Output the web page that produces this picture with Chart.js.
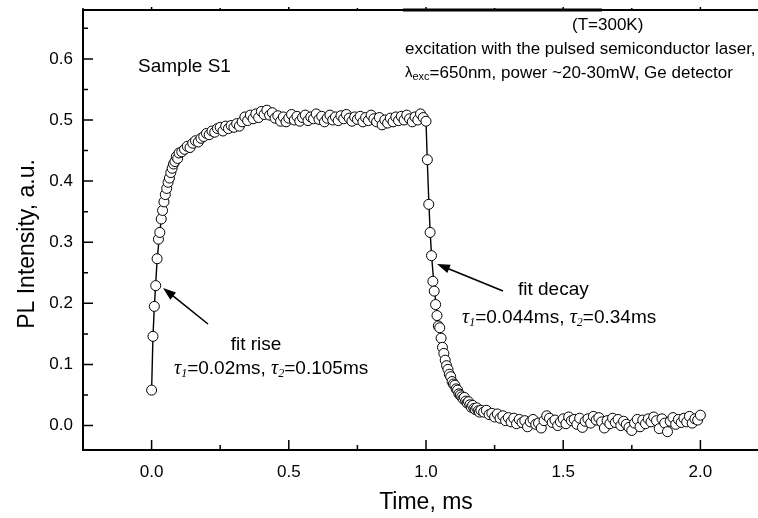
<!DOCTYPE html>
<html>
<head>
<meta charset="utf-8">
<script src="https://cdn.jsdelivr.net/npm/chart.js@4/dist/chart.umd.min.js"></script>
<style>
  html, body { margin: 0; padding: 0; background: #fff; overflow: hidden; width: 758px; height: 518px; }
  canvas { display: block; }
</style>
</head>
<body>
<canvas id="plChart" width="780" height="518"></canvas>
<script>
const riseStart = 0.0, riseStep = 0.005;
const riseValues = [0.058, 0.146, 0.195, 0.229, 0.273, 0.305, 0.316, 0.338, 0.352, 0.366,
  0.378, 0.388, 0.398, 0.405, 0.414, 0.421, 0.428, 0.432, 0.440, 0.437, 0.446];

const plateauStart = 0.11, plateauStep = 0.01;
const plateauValues = [0.448, 0.452, 0.457, 0.455, 0.462, 0.466, 0.464, 0.470, 0.473, 0.478,
  0.476, 0.482, 0.480, 0.486, 0.488, 0.482, 0.490, 0.486, 0.491, 0.488,
  0.494, 0.490, 0.497, 0.505, 0.499, 0.508, 0.502, 0.510, 0.504, 0.514,
  0.509, 0.516, 0.508, 0.512, 0.503, 0.507, 0.498, 0.505, 0.497, 0.503,
  0.509, 0.500, 0.506, 0.498, 0.504, 0.508, 0.499, 0.505, 0.502, 0.510,
  0.501, 0.506, 0.497, 0.503, 0.508, 0.500, 0.505, 0.499, 0.507, 0.502,
  0.509, 0.503, 0.498, 0.505, 0.501, 0.506, 0.497, 0.504, 0.499, 0.508,
  0.502, 0.497, 0.504, 0.492, 0.500, 0.495, 0.503, 0.497, 0.505, 0.499,
  0.506, 0.500, 0.508, 0.502, 0.497, 0.505, 0.500, 0.510, 0.504];

const decayStart = 1.0, decayStep = 0.005;
const decayValues = [0.498, 0.435, 0.362, 0.316, 0.278, 0.236, 0.220, 0.198, 0.180, 0.163,
  0.160, 0.143, 0.128, 0.118, 0.107, 0.098, 0.092, 0.084, 0.080, 0.072,
  0.068, 0.066, 0.060, 0.058, 0.052, 0.050, 0.047, 0.044, 0.046, 0.040,
  0.037, 0.039, 0.034, 0.030, 0.033, 0.028, 0.026, 0.029, 0.024, 0.022, 0.025];

const tailStart = 1.21, tailStep = 0.01;
const tailValues = [0.022, 0.025, 0.018, 0.020, 0.014, 0.019, 0.012, 0.016, 0.008, 0.013,
  0.006, 0.012, 0.003, 0.010, 0.005, 0.008, -0.002, 0.006, 0.010, 0.002,
  0.004, -0.004, 0.008, 0.016, 0.012, 0.005, 0.009, 0.000, 0.006, 0.011,
  0.003, 0.014, 0.008, 0.010, 0.002, 0.012, -0.003, 0.007, 0.011, 0.004,
  0.015, 0.009, 0.013, 0.006, -0.004, 0.008, 0.003, 0.012, 0.005, 0.010,
  0.000, 0.007, 0.002, -0.003, -0.008, 0.004, 0.010, -0.002, 0.009, 0.003,
  0.011, 0.006, 0.014, 0.008, -0.005, 0.011, 0.004, -0.010, 0.007, 0.013,
  0.002, 0.010, 0.005, 0.012, 0.006, 0.015, 0.004, 0.011, 0.009, 0.017];

// fit curve (rise + decay)
const fitTimes = [0, 0.005, 0.01, 0.015, 0.02, 0.03, 0.04, 0.05, 0.07, 0.1, 0.15, 0.2, 0.3, 0.4,
  0.6, 0.8, 0.99, 1.0, 1.005, 1.01, 1.015, 1.02, 1.03, 1.04, 1.05, 1.06, 1.08, 1.1, 1.13,
  1.16, 1.2, 1.25, 1.3, 1.4, 1.5, 1.7, 2.0];
const fitValues = [0.058, 0.146, 0.195, 0.232, 0.27, 0.318, 0.352, 0.378, 0.41, 0.44, 0.465,
  0.48, 0.495, 0.503, 0.503, 0.502, 0.5, 0.498, 0.43, 0.37, 0.318, 0.28, 0.225, 0.185, 0.158,
  0.135, 0.1, 0.075, 0.052, 0.038, 0.027, 0.019, 0.014, 0.009, 0.007, 0.006, 0.005];

const xMajorTicks = [0, 0.5, 1.0, 1.5, 2.0];
const xMinorTicks = [-0.25, 0.25, 0.75, 1.25, 1.75];
const yMajorTicks = [0, 0.1, 0.2, 0.3, 0.4, 0.5, 0.6];
const yMinorTicks = [0.05, 0.15, 0.25, 0.35, 0.45, 0.55, 0.65];

function segment(start, step, values) {
  return values.map((v, i) => ({ x: +(start + i * step).toFixed(3), y: v }));
}

const measured = [].concat(
  segment(riseStart, riseStep, riseValues),
  segment(plateauStart, plateauStep, plateauValues),
  segment(decayStart, decayStep, decayValues),
  segment(tailStart, tailStep, tailValues)
);
const fitLine = fitTimes.map((t, i) => ({ x: t, y: fitValues[i] }));

const SANS = "'Liberation Sans', Arial, sans-serif";
const SERIF = "'Liberation Serif', 'Times New Roman', serif";

function rich(ctx, x, y, parts) {
  parts.forEach((p) => {
    ctx.font = p.font;
    ctx.fillText(p.t, x, y + (p.dy || 0));
    x += ctx.measureText(p.t).width;
  });
}

function arrow(ctx, x1, y1, x2, y2) {
  const a = Math.atan2(y2 - y1, x2 - x1);
  const len = 13, half = 4.5;
  ctx.beginPath();
  ctx.moveTo(x1, y1);
  ctx.lineTo(x2 - len * 0.8 * Math.cos(a), y2 - len * 0.8 * Math.sin(a));
  ctx.lineWidth = 1.6;
  ctx.stroke();
  ctx.beginPath();
  ctx.moveTo(x2, y2);
  ctx.lineTo(x2 - len * Math.cos(a) + half * Math.sin(a), y2 - len * Math.sin(a) - half * Math.cos(a));
  ctx.lineTo(x2 - len * Math.cos(a) - half * Math.sin(a), y2 - len * Math.sin(a) + half * Math.cos(a));
  ctx.closePath();
  ctx.fill();
}

const framePlugin = {
  id: "frame",
  afterDraw(chart) {
    const { ctx, chartArea: a, scales } = chart;
    const xs = scales.x, ys = scales.y;
    ctx.save();
    ctx.strokeStyle = "#000";
    ctx.fillStyle = "#000";
    ctx.lineWidth = 2;
    ctx.strokeRect(a.left, a.top, a.right - a.left, a.bottom - a.top);

    ctx.lineWidth = 1.5;
    ctx.beginPath();
    xMajorTicks.forEach((v) => {
      const p = xs.getPixelForValue(v);
      ctx.moveTo(p, a.bottom); ctx.lineTo(p, a.bottom - 10);
      ctx.moveTo(p, a.top); ctx.lineTo(p, a.top - 3);
    });
    xMinorTicks.forEach((v) => {
      const p = xs.getPixelForValue(v);
      ctx.moveTo(p, a.bottom); ctx.lineTo(p, a.bottom - 5);
      ctx.moveTo(p, a.top); ctx.lineTo(p, a.top - 2);
    });
    yMajorTicks.forEach((v) => {
      const p = ys.getPixelForValue(v);
      ctx.moveTo(a.left, p); ctx.lineTo(a.left + 10, p);
    });
    yMinorTicks.forEach((v) => {
      const p = ys.getPixelForValue(v);
      ctx.moveTo(a.left, p); ctx.lineTo(a.left + 5, p);
    });
    ctx.stroke();

    // stray thick segment on the top border
    ctx.lineWidth = 3;
    ctx.beginPath();
    ctx.moveTo(403, a.top); ctx.lineTo(602, a.top);
    ctx.stroke();

    // axis titles
    ctx.textBaseline = "middle";
    ctx.textAlign = "center";
    ctx.font = "23px " + SANS;
    ctx.fillText("Time, ms", xs.getPixelForValue(1.0), 503);
    ctx.save();
    ctx.translate(28, 244);
    ctx.rotate(-Math.PI / 2);
    ctx.fillText("PL Intensity, a.u.", 0, 0);
    ctx.restore();

    // annotations
    ctx.textAlign = "left";
    ctx.font = "19px " + SANS;
    ctx.fillText("Sample S1", 138, 67);

    ctx.font = "17px " + SANS;
    ctx.fillText("(T=300K)", 572, 25);
    ctx.fillText("excitation with the pulsed semiconductor laser,", 405, 49);
    rich(ctx, 405, 73, [
      { t: "\u03bb", font: "15px " + SANS },
      { t: "exc", font: "11px " + SANS, dy: 4 },
      { t: "=650nm, power ~20-30mW, Ge detector", font: "17px " + SANS }
    ]);

    ctx.textAlign = "center";
    ctx.font = "19px " + SANS;
    ctx.fillText("fit rise", 256, 345);
    ctx.textAlign = "left";
    ctx.fillText("fit decay", 518, 290);

    const tau = "italic 20px " + SERIF;
    const sub = "italic 12px " + SERIF;
    const txt = "19px " + SANS;
    rich(ctx, 174, 369, [
      { t: "\u03c4", font: tau }, { t: "1", font: sub, dy: 5 }, { t: "=0.02ms, ", font: txt },
      { t: "\u03c4", font: tau }, { t: "2", font: sub, dy: 5 }, { t: "=0.105ms", font: txt }
    ]);
    rich(ctx, 462, 318, [
      { t: "\u03c4", font: tau }, { t: "1", font: sub, dy: 5 }, { t: "=0.044ms, ", font: txt },
      { t: "\u03c4", font: tau }, { t: "2", font: sub, dy: 5 }, { t: "=0.34ms", font: txt }
    ]);

    arrow(ctx, 208, 324, 163, 288);
    arrow(ctx, 503, 291, 437, 264);
    ctx.restore();
  }
};

new Chart(document.getElementById("plChart"), {
  type: "scatter",
  data: {
    datasets: [
      {
        label: "PL",
        data: measured,
        showLine: false,
        pointRadius: 5,
        pointHoverRadius: 5,
        pointBorderWidth: 1,
        pointBorderColor: "#000",
        pointBackgroundColor: "#fff"
      },
      {
        label: "fit",
        data: fitLine,
        showLine: true,
        pointRadius: 0,
        borderColor: "#000",
        borderWidth: 1.4,
        tension: 0
      }
    ]
  },
  options: {
    responsive: false,
    animation: false,
    layout: { padding: { left: 0, top: 10, right: 11, bottom: 0 } },
    plugins: { legend: { display: false }, tooltip: { enabled: false } },
    scales: {
      x: {
        type: "linear",
        min: -0.25,
        max: 2.25,
        afterBuildTicks: (s) => { s.ticks = xMajorTicks.map((v) => ({ value: v })); },
        afterFit: (s) => { s.height = 68; s.paddingLeft = 0; s.paddingRight = 0; },
        grid: { display: false, drawTicks: false },
        border: { display: false },
        ticks: {
          padding: 12,
          color: "#000",
          font: { family: SANS, size: 17 },
          callback: (v) => Number(v).toFixed(1)
        }
      },
      y: {
        type: "linear",
        min: -0.04,
        max: 0.68,
        afterBuildTicks: (s) => { s.ticks = yMajorTicks.map((v) => ({ value: v })); },
        afterFit: (s) => { s.width = 83; s.paddingTop = 0; s.paddingBottom = 0; },
        grid: { display: false, drawTicks: false },
        border: { display: false },
        ticks: {
          padding: 10,
          color: "#000",
          font: { family: SANS, size: 17 },
          callback: (v) => Number(v).toFixed(1)
        }
      }
    }
  },
  plugins: [framePlugin]
});
</script>
</body>
</html>
